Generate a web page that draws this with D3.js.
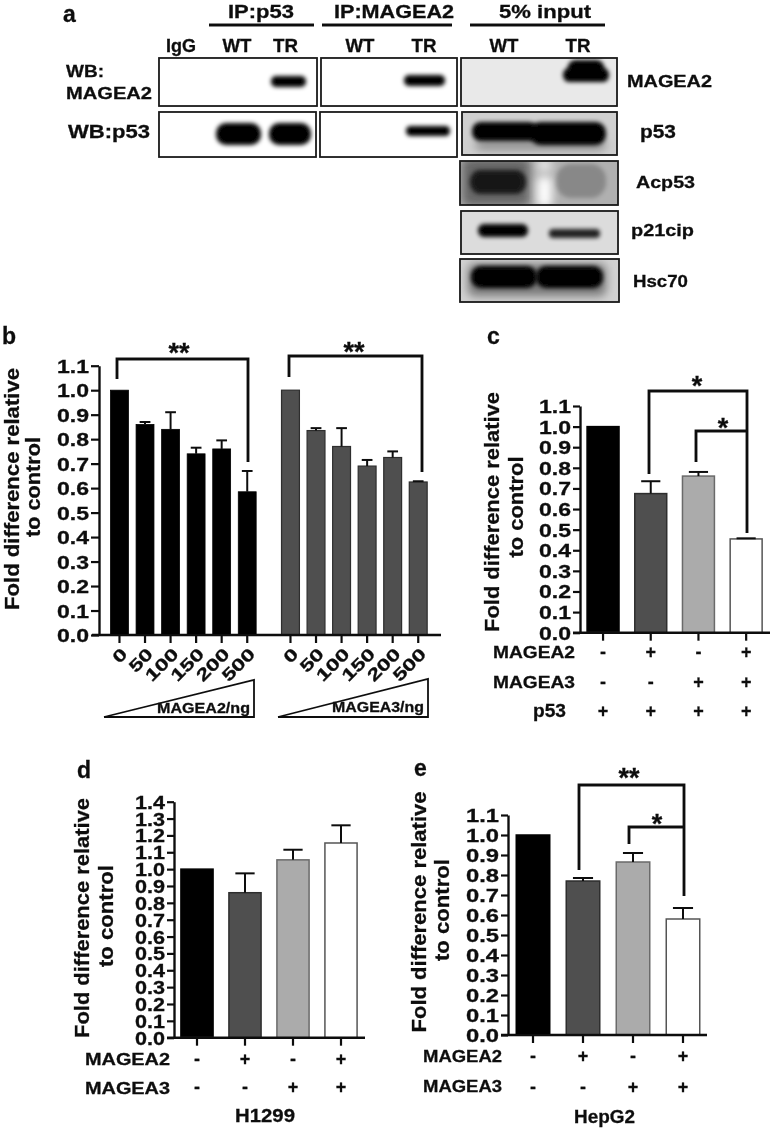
<!DOCTYPE html>
<html>
<head>
<meta charset="utf-8">
<script src="https://cdn.jsdelivr.net/npm/d3@7"></script>
<style>
html, body { margin: 0; padding: 0; background: #fff; }
svg { display: block; }
text { font-family: "Liberation Sans", Arial, sans-serif; font-weight: bold; fill: #111; stroke: #111; stroke-width: 0.3px; }
</style>
</head>
<body>
<div id="chart"></div>
<script>
// panel b
var doses = ["0", "50", "100", "150", "200", "500"];
var magea2Dose = [1.0, 0.86, 0.84, 0.74, 0.76, 0.585];
var magea2DoseTop = [1.0, 0.87, 0.91, 0.765, 0.795, 0.67];
var magea3Dose = [1.0, 0.835, 0.77, 0.69, 0.725, 0.625];
var magea3DoseTop = [1.0, 0.845, 0.845, 0.715, 0.75, 0.628];

// panels c, d, e share four conditions
var conditions = ["ctrl", "A2", "A3", "A2A3"];
var signsA2 = ["-", "+", "-", "+"];
var signsA3 = ["-", "-", "+", "+"];
var signsP53 = ["+", "+", "+", "+"];

var valuesC = [1.0, 0.675, 0.76, 0.455];
var topsC = [1.0, 0.735, 0.78, 0.458];
var valuesD = [1.0, 0.86, 1.055, 1.155];
var topsD = [1.0, 0.975, 1.115, 1.26];
var valuesE = [1.0, 0.77, 0.865, 0.58];
var topsE = [1.0, 0.785, 0.91, 0.635];

var ticks11 = [0, 0.1, 0.2, 0.3, 0.4, 0.5, 0.6, 0.7, 0.8, 0.9, 1.0, 1.1];
var ticks14 = [0, 0.1, 0.2, 0.3, 0.4, 0.5, 0.6, 0.7, 0.8, 0.9, 1.0, 1.1, 1.2, 1.3, 1.4];

// blot band strengths, WT then TR
var blotIpP53Magea2 = [0, 1];
var blotIpA2Magea2 = [0, 1];
var blotInputMagea2 = [0, 1];
var blotIpP53P53 = [1, 1];
var blotIpA2P53 = [0, 1];
var blotInputP53 = [1, 1];
var blotAcp53 = [0.75, 0.22];
var blotP21 = [1, 0.85];
var blotHsc70 = [1, 1];

var svg = d3.select("#chart").append("svg").attr("width", 772).attr("height", 1129);
var defs = svg.append("defs");
defs.append("filter").attr("id", "soft").attr("x", "-5%").attr("y", "-5%").attr("width", "110%").attr("height", "110%")
	.append("feGaussianBlur").attr("stdDeviation", 0.45);
defs.append("filter").attr("id", "smear").attr("x", "-40%").attr("y", "-60%").attr("width", "180%").attr("height", "220%")
	.append("feGaussianBlur").attr("stdDeviation", 2);
defs.append("filter").attr("id", "smear2").attr("x", "-50%").attr("y", "-80%").attr("width", "200%").attr("height", "260%")
	.append("feGaussianBlur").attr("stdDeviation", 5);

var root = svg.append("g").attr("filter", "url(#soft)");

function label(g, str, x, y, size, width, anchor, rot) {
	var t = g.append("text")
		.attr("transform", "translate(" + x + "," + y + ")" + (rot ? " rotate(" + rot + ")" : ""))
		.attr("text-anchor", anchor || "start")
		.attr("font-size", size)
		.text(str);
	if (width) t.attr("textLength", width).attr("lengthAdjust", "spacingAndGlyphs");
	return t;
}

// ---- panel a: blots ----
var clipId = 0;
function blot(x0, y0, x1, y1, bg, bands, smears) {
	var id = "clip" + (clipId++);
	defs.append("clipPath").attr("id", id).append("rect")
		.attr("x", x0).attr("y", y0).attr("width", x1 - x0).attr("height", y1 - y0);
	var g = root.append("g");
	var inner = g.append("g").attr("clip-path", "url(#" + id + ")");
	inner.append("rect").attr("x", x0).attr("y", y0).attr("width", x1 - x0).attr("height", y1 - y0).attr("fill", bg);
	(smears || []).forEach(function(s) {
		inner.append("rect").attr("x", s[0]).attr("y", s[1]).attr("width", s[2] - s[0]).attr("height", s[3] - s[1])
			.attr("rx", 6).attr("fill", s[4]).attr("filter", "url(#smear2)");
	});
	inner.selectAll("rect.band").data(bands.filter(function(d) { return d.s > 0; })).enter().append("rect")
		.attr("class", "band")
		.attr("x", function(d) { return d.x0; })
		.attr("y", function(d) { return d.y0; })
		.attr("width", function(d) { return d.x1 - d.x0; })
		.attr("height", function(d) { return d.y1 - d.y0; })
		.attr("rx", function(d) { return (d.y1 - d.y0) / 2.2; })
		.attr("fill", "#000")
		.attr("opacity", function(d) { return d.s; })
		.attr("filter", "url(#smear)");
	g.append("rect").attr("x", x0).attr("y", y0).attr("width", x1 - x0).attr("height", y1 - y0)
		.attr("fill", "none").attr("stroke", "#1a1a1a").attr("stroke-width", 1.8);
}

blot(159, 58, 317, 106, "#fff", [{ x0: 271, x1: 306, y0: 76, y1: 87, s: blotIpP53Magea2[1] }]);
blot(321, 58, 457, 106, "#fff", [{ x0: 404, x1: 445, y0: 75, y1: 86, s: blotIpA2Magea2[1] }]);
blot(461, 58, 617, 106, "#e9e9e9", [
	{ x0: 563, x1: 609, y0: 68, y1: 82, s: blotInputMagea2[1] },
	{ x0: 568, x1: 604, y0: 60, y1: 76, s: blotInputMagea2[1] }
]);
blot(159, 112, 316, 157, "#fff", [
	{ x0: 216, x1: 261, y0: 123, y1: 145, s: blotIpP53P53[0] },
	{ x0: 269, x1: 311, y0: 123, y1: 145, s: blotIpP53P53[1] }
]);
blot(320, 112, 457, 157, "#fff", [{ x0: 406, x1: 450, y0: 126, y1: 136, s: blotIpA2P53[1] }]);
blot(462, 112, 617, 155, "#d0d0d0", [
	{ x0: 472, x1: 538, y0: 122, y1: 141, s: blotInputP53[0] },
	{ x0: 530, x1: 606, y0: 122, y1: 145, s: blotInputP53[1] }
], [[475, 140, 606, 150, "#8a8a8a"]]);
blot(460, 161, 618, 205, "#b0b0b0", [
	{ x0: 470, x1: 526, y0: 170, y1: 194, s: blotAcp53[0] },
	{ x0: 556, x1: 606, y0: 164, y1: 198, s: blotAcp53[1] }
], [[462, 158, 530, 206, "#666"], [537, 176, 552, 208, "#fff"], [537, 158, 552, 172, "#e8e8e8"]]);
blot(461, 211, 618, 254, "#dcdcdc", [
	{ x0: 478, x1: 528, y0: 224, y1: 237, s: blotP21[0] },
	{ x0: 549, x1: 600, y0: 229, y1: 238, s: blotP21[1] }
]);
blot(460, 259, 619, 302, "#d2d2d2", [
	{ x0: 471, x1: 537, y0: 266, y1: 288, s: blotHsc70[0] },
	{ x0: 536, x1: 603, y0: 266, y1: 288, s: blotHsc70[1] }
], [[468, 264, 606, 296, "#777"]]);

// headers over the blots
[[209, 314], [322, 452], [470, 605]].forEach(function(s) {
	root.append("line").attr("x1", s[0]).attr("x2", s[1]).attr("y1", 25).attr("y2", 25)
		.attr("stroke", "#111").attr("stroke-width", 2.8);
});
label(root, "IP:p53", 261, 18, 18, 66, "middle");
label(root, "IP:MAGEA2", 394, 18, 18, 120, "middle");
label(root, "5% input", 545, 18, 18, 92, "middle");
[["IgG", 181, 30], ["WT", 237, 29], ["TR", 285.5, 25], ["WT", 360, 29], ["TR", 424, 25], ["WT", 504, 29], ["TR", 578, 25]]
	.forEach(function(d) { label(root, d[0], d[1], 52, 18, d[2], "middle"); });
label(root, "WB:", 66, 77, 17, 38);
label(root, "MAGEA2", 66, 99, 17, 86);
label(root, "WB:p53", 68, 138, 18, 82);
label(root, "MAGEA2", 627, 87, 17, 85);
label(root, "p53", 640, 138, 18, 36);
label(root, "Acp53", 636, 188, 17, 59);
label(root, "p21cip", 631, 236, 17, 63);
label(root, "Hsc70", 633, 287, 17, 55);
label(root, "a", 63, 22, 23);
label(root, "b", 2, 344, 23);
label(root, "c", 487, 344, 23);
label(root, "d", 77, 778, 23);
label(root, "e", 414, 776, 23);

// ---- bar panels ----
var fillC = ["#000", "#4f4f4f", "#ababab", "#fff"];
var edgeC = ["#000", "#2e2e2e", "#6a6a6a", "#555"];

function yAxis(g, y, x, tickVals, tickLen, tickW) {
	var a = g.append("g").attr("transform", "translate(" + x + ",0)")
		.call(d3.axisLeft(y).tickValues(tickVals).tickSize(tickLen).tickSizeOuter(0).tickPadding(2).tickFormat(d3.format(".1f")));
	a.select(".domain").attr("stroke", "#111").attr("stroke-width", 2.4);
	a.selectAll(".tick line").attr("stroke", "#111").attr("stroke-width", 2.2);
	a.selectAll(".tick text")
		.attr("font-size", 18).attr("fill", "#111").attr("dy", "0.36em")
		.attr("textLength", tickW).attr("lengthAdjust", "spacingAndGlyphs");
	a.attr("font-family", null).attr("font-size", null);
}

function xTicks(g, band, y0) {
	var a = g.append("g").attr("transform", "translate(0," + y0 + ")")
		.call(d3.axisBottom(band).tickSize(8).tickSizeOuter(0).tickFormat(""));
	a.select(".domain").remove();
	a.selectAll(".tick line").attr("stroke", "#111").attr("stroke-width", 2.2);
}

function bars(parent, band, y, values, tops, fills, edges, edgeW) {
	var g = parent.append("g");
	var rows = values.map(function(v, i) {
		return { key: band.domain()[i], v: v, top: tops[i], fill: fills[i], edge: edges[i] };
	});
	g.selectAll("rect.bar").data(rows).enter().append("rect")
		.attr("class", "bar")
		.attr("x", function(d) { return band(d.key); })
		.attr("width", band.bandwidth())
		.attr("y", function(d) { return y(d.v); })
		.attr("height", function(d) { return y(0) - y(d.v); })
		.attr("fill", function(d) { return d.fill; })
		.attr("stroke", function(d) { return d.edge; })
		.attr("stroke-width", edgeW);
	var errs = rows.filter(function(d) { return d.top > d.v; });
	var cap = band.bandwidth() * 0.3;
	var mid = function(d) { return band(d.key) + band.bandwidth() / 2; };
	g.selectAll("line.stem").data(errs).enter().append("line")
		.attr("class", "stem")
		.attr("x1", mid).attr("x2", mid)
		.attr("y1", function(d) { return y(d.v); })
		.attr("y2", function(d) { return y(d.top); })
		.attr("stroke", "#111").attr("stroke-width", 2);
	g.selectAll("line.cap").data(errs).enter().append("line")
		.attr("class", "cap")
		.attr("x1", function(d) { return mid(d) - cap; })
		.attr("x2", function(d) { return mid(d) + cap; })
		.attr("y1", function(d) { return y(d.top); })
		.attr("y2", function(d) { return y(d.top); })
		.attr("stroke", "#111").attr("stroke-width", 2);
}

function bracket(g, pts, w) {
	g.append("path").attr("d", d3.line()(pts)).attr("fill", "none")
		.attr("stroke", "#111").attr("stroke-width", w || 2.8);
}

function star(g, str, x, yc) {
	label(g, str, x, yc + 15, 27, null, "middle");
}

function signRow(g, band, signs, yc, dx) {
	signs.forEach(function(s, i) {
		label(g, s, band(band.domain()[i]) + band.bandwidth() / 2 + (dx || 0), yc + 6, 18, null, "middle");
	});
}

function title(g, xA, yA, lenA, xB, yB, lenB, size) {
	label(g, "Fold difference relative", xA, yA, size, lenA, "middle", -90);
	label(g, "to control", xB, yB, size, lenB, "middle", -90);
}

// panel b
var gb = root.append("g");
var yB = d3.scaleLinear().domain([0, 1.1]).range([635, 365.7]);
var xB1 = d3.scaleBand().domain(doses).range([106.7, 260]).paddingInner(0.3).paddingOuter(0.15);
var xB2 = d3.scaleBand().domain(doses).range([277.7, 431]).paddingInner(0.3).paddingOuter(0.15);
function repeat(c, n) { return d3.range(n).map(function() { return c; }); }
bars(gb, xB1, yB, magea2Dose, magea2DoseTop, repeat("#000", 6), repeat("#000", 6), 0.8);
bars(gb, xB2, yB, magea3Dose, magea3DoseTop, repeat("#4f4f4f", 6), repeat("#2e2e2e", 6), 1.2);
yAxis(gb, yB, 99, ticks11, 8, 32);
gb.append("line").attr("x1", 92).attr("x2", 441).attr("y1", 635).attr("y2", 635).attr("stroke", "#111").attr("stroke-width", 2.4);
xTicks(gb, xB1, 635);
xTicks(gb, xB2, 635);
[xB1, xB2].forEach(function(band) {
	doses.forEach(function(d) {
		var cx = band(d) + band.bandwidth() / 2;
		label(gb, d, cx + 9, 655, 17, d.length * 13, "end", -45);
	});
});
title(gb, 19, 489, 242, 40, 487, 100, 20);
bracket(gb, [[117, 379], [117, 359], [248, 359], [248, 462]]);
bracket(gb, [[289, 377], [289, 356], [422, 356], [422, 472]]);
star(gb, "**", 179, 347);
star(gb, "**", 354, 346);
[[104, 254, 680], [278, 428, 679]].forEach(function(t) {
	gb.append("path").attr("d", d3.line()([[t[0], 717], [t[1], t[2]], [t[1], 717], [t[0], 717]]))
		.attr("fill", "#fff").attr("stroke", "#111").attr("stroke-width", 1.8);
});
label(gb, "MAGEA2/ng", 157, 713, 14, 93);
label(gb, "MAGEA3/ng", 332, 712, 14, 92);

// panel c
var gc = root.append("g");
var yC = d3.scaleLinear().domain([0, 1.1]).range([632.7, 406]);
var xC = d3.scaleBand().domain(conditions).range([579.2, 770]).paddingInner(0.33).paddingOuter(0.165);
bars(gc, xC, yC, valuesC, topsC, fillC, edgeC, 1.5);
yAxis(gc, yC, 580, ticks11, 7, 32);
gc.append("line").attr("x1", 573).attr("x2", 770).attr("y1", 632.7).attr("y2", 632.7).attr("stroke", "#111").attr("stroke-width", 2.4);
xTicks(gc, xC, 632.7);
title(gc, 499, 512, 240, 523, 507, 101, 21);
bracket(gc, [[649, 474], [649, 391], [747, 391], [747, 533]]);
bracket(gc, [[696, 462], [696, 431], [747, 431]]);
star(gc, "*", 697, 380);
star(gc, "*", 723, 422);
signRow(gc, xC, signsA2, 652);
signRow(gc, xC, signsA3, 682);
signRow(gc, xC, signsP53, 711);
label(gc, "MAGEA2", 493, 658, 17, 82);
label(gc, "MAGEA3", 493, 688, 17, 82);
label(gc, "p53", 533, 717, 18, 33);

// panel d
var gd = root.append("g");
var yD = d3.scaleLinear().domain([0, 1.4]).range([1037.7, 801.7]);
var xD = d3.scaleBand().domain(conditions).range([173, 365]).paddingInner(0.33).paddingOuter(0.165);
bars(gd, xD, yD, valuesD, topsD, fillC, edgeC, 1.5);
yAxis(gd, yD, 174, ticks14, 7, 30);
gd.append("line").attr("x1", 167).attr("x2", 365).attr("y1", 1037.7).attr("y2", 1037.7).attr("stroke", "#111").attr("stroke-width", 2.4);
xTicks(gd, xD, 1037.7);
title(gd, 89, 918, 240, 113, 916, 102, 21);
signRow(gd, xD, signsA2, 1059);
signRow(gd, xD, signsA3, 1087);
label(gd, "MAGEA2", 85, 1065, 17, 85);
label(gd, "MAGEA3", 85, 1094, 17, 85);
label(gd, "H1299", 235, 1122, 19, 60);

// panel e
var ge = root.append("g");
var yE = d3.scaleLinear().domain([0, 1.1]).range([1035, 815]);
var xE = d3.scaleBand().domain(conditions).range([508, 708]).paddingInner(0.33).paddingOuter(0.165);
bars(ge, xE, yE, valuesE, topsE, fillC, edgeC, 1.5);
yAxis(ge, yE, 508, ticks11, 7, 33);
ge.append("line").attr("x1", 501).attr("x2", 707).attr("y1", 1035).attr("y2", 1035).attr("stroke", "#111").attr("stroke-width", 2.4);
xTicks(ge, xE, 1035);
title(ge, 426, 912, 241, 449, 910, 102, 21);
bracket(ge, [[579, 870], [579, 785], [684, 785], [684, 896]]);
bracket(ge, [[629, 844], [629, 827], [684, 827]]);
star(ge, "**", 629, 772);
star(ge, "*", 657, 818);
signRow(ge, xE, signsA2, 1056);
signRow(ge, xE, signsA3, 1087);
label(ge, "MAGEA2", 423, 1062, 17, 79);
label(ge, "MAGEA3", 423, 1092, 17, 79);
label(ge, "HepG2", 574, 1123, 19, 61);
</script>
</body>
</html>
